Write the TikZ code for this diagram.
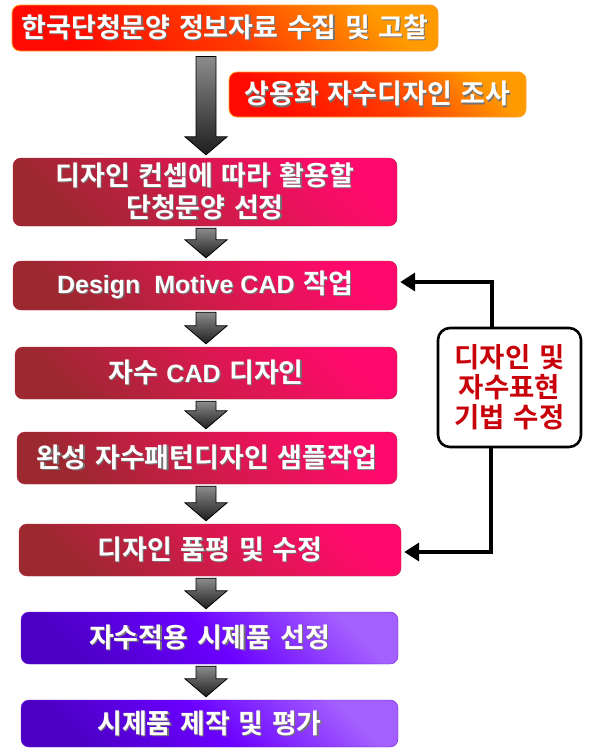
\documentclass[tikz,border=0pt]{standalone}
\usepackage{fontspec}
\usetikzlibrary{arrows.meta,calc}
\newfontfamily\kr{Noto Sans CJK KR}[BoldFont={Noto Sans CJK KR Bold},WordSpace=1.4]
\newfontfamily\lat{Liberation Sans}
\definecolor{orA}{HTML}{FF0A00}
\definecolor{orM}{HTML}{FF3A00}
\definecolor{orB}{HTML}{FF9A00}
\definecolor{orEdge}{HTML}{FFA020}
\definecolor{crA}{HTML}{9C2830}
\definecolor{crM}{HTML}{D41A4C}
\definecolor{crB}{HTML}{FF0A6C}
\definecolor{puA}{HTML}{4C00C4}
\definecolor{puM}{HTML}{6A00FF}
\definecolor{puB}{HTML}{A460FF}
\definecolor{fbred}{HTML}{C8000A}
\definecolor{arTop}{HTML}{8C8C8C}
\definecolor{arBot}{HTML}{1E1E1E}
\newcommand\shtext[1]{\leavevmode\rlap{\kern1.2pt\raisebox{-1.2pt}{\textcolor{black!55}{#1}}}#1}
\newcommand\latb[1]{{\lat\bfseries\fontsize{25}{29}\selectfont #1}}
\newcommand\barr[3]{%
  \path[blockarrow] let \p1=(#1.south), \p2=(#2.north) in
    (196pt,{\y1-#3}) -- (216pt,{\y1-#3}) -- (216pt,{\y2+21pt}) -- (227pt,{\y2+21pt})
    -- (206pt,{\y2+3pt}) -- (185pt,{\y2+21pt}) -- (196pt,{\y2+21pt}) -- cycle;}
\tikzset{
  flowbox/.style={rounded corners=8pt, inner sep=0pt, text=white, align=center,
    font=\kr\bfseries\fontsize{27}{32}\selectfont},
  obox/.style={flowbox, draw=orEdge, line width=0.8pt, left color=orA, right color=orB,
    middle color=orM, shading angle=135},
  cbox/.style={flowbox, draw=crA!80!crB, line width=0.4pt, left color=crA, right color=crB,
    middle color=crM, shading angle=135},
  pbox/.style={flowbox, draw=puA!70!puB, line width=0.4pt, left color=puA, right color=puB,
    middle color=puM, shading angle=135},
  blockarrow/.style={draw=black, line width=0.8pt, line join=miter, top color=arTop, bottom color=arBot},
  fbbox/.style={draw=black, line width=2.6pt, rounded corners=12pt, fill=white, text=fbred,
    align=center, inner sep=0pt, font=\kr\bfseries\fontsize{27.5}{30}\selectfont},
  fbline/.style={draw=black, line width=4pt, -{Triangle[length=15pt,width=18pt]}}
}
\begin{document}
\begin{tikzpicture}[x=1pt,y=1pt]
\useasboundingbox[fill=white] (0,0) rectangle (591,-756);
\node[obox, minimum width=426pt, minimum height=46pt] (b1) at (225,-28) {\shtext{한국단청문양 정보자료 수집 및 고찰}};
\node[obox, minimum width=297pt, minimum height=45pt] (b2) at (377.5,-94.5) {\shtext{상용화 자수디자인 조사}};
\node[cbox, minimum width=384pt, minimum height=68pt] (b3) at (205,-192) {\shtext{디자인 컨셉에 따라 활용할}\\\shtext{단청문양 선정}};
\node[cbox, minimum width=384pt, minimum height=49pt] (b4) at (205,-285.5) {\shtext{\latb{Design\ \ Motive CAD} 작업}};
\node[cbox, minimum width=382pt, minimum height=52pt] (b5) at (206,-373) {\shtext{자수 \latb{CAD} 디자인}};
\node[cbox, minimum width=380pt, minimum height=52pt] (b6) at (207,-458) {\shtext{완성 자수패턴디자인 샘플작업}};
\node[cbox, minimum width=382pt, minimum height=52pt] (b7) at (210,-550) {\shtext{디자인 품평 및 수정}};
\node[pbox, minimum width=377pt, minimum height=52pt] (b8) at (209.5,-638) {\shtext{자수적용 시제품 선정}};
\node[pbox, minimum width=377pt, minimum height=47pt] (b9) at (209.5,-723.5) {\shtext{시제품 제작 및 평가}};
\node[fbbox, minimum width=143pt, minimum height=119pt] (fb) at (509.5,-387.5) {디자인 및\\자수표현\\기법 수정};
\barr{b1}{b3}{5pt}
\barr{b3}{b4}{2pt}
\barr{b4}{b5}{2pt}
\barr{b5}{b6}{2pt}
\barr{b6}{b7}{2pt}
\barr{b7}{b8}{2pt}
\barr{b8}{b9}{2pt}
\draw[fbline] ([xshift=-17.5pt]fb.north) |- ([xshift=3pt,yshift=3.5pt]b4.east);
\draw[fbline] ([xshift=-18.5pt]fb.south) |- ([xshift=3pt,yshift=-2pt]b7.east);
\end{tikzpicture}
\end{document}
